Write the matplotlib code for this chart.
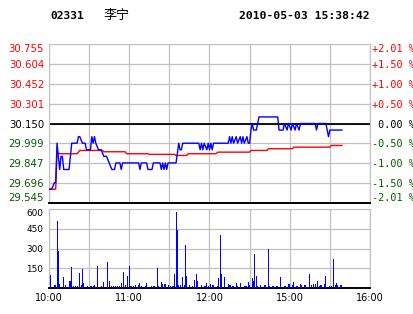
import matplotlib
matplotlib.use('Agg')
import matplotlib.pyplot as plt

# header texts
code = '02331'
name = '李宁'
stamp = '2010-05-03 15:38:42'

# price axis (left) and change axis (right)
price_ticks = [30.755, 30.604, 30.452, 30.301, 30.150, 29.999, 29.847, 29.696, 29.545]
pct_labels = ['+2.01 %', '+1.50 %', '+1.00 %', '+0.50 %', ' 0.00 %',
              '-0.50 %', '-1.00 %', '-1.50 %', '-2.01 %']
prev_close = 30.150

# time axis: minutes of the trading day (10:00-12:30, 14:30-16:00)
time_ticks = [0, 30, 60, 90, 120, 150, 180, 210, 240]
time_labels = ['10:00', '', '11:00', '', '12:00', '', '15:00', '', '16:00']

# last price, breakpoints (minute, price)
price_min = [0, 2, 4, 5, 6, 8, 9, 10, 11, 15, 17, 21, 22, 23, 25, 27, 28, 31, 32, 33,
             34, 35, 37, 39, 41, 43, 45, 47, 49, 50, 53, 54, 55, 67, 68, 69, 73, 74, 77, 78,
             83, 84, 85, 86, 87, 88, 89, 95, 97, 98, 99, 100, 112, 113, 114, 115, 116, 118, 119, 120,
             121, 122, 123, 134, 135, 136, 137, 138, 140, 141, 143, 144, 145, 146, 148, 149, 150, 151, 152, 153,
             155, 156, 157, 171, 172, 175, 176, 178, 179, 181, 182, 184, 185, 187, 188, 199, 200, 201, 207, 209,
             210, 219]
price_val = [29.65, 29.65, 29.70, 29.70, 30.00, 29.80, 29.90, 29.90, 29.80, 29.80, 30.00, 30.00, 30.05, 30.05, 30.00, 30.00, 29.95, 29.95, 30.05, 30.00,
             30.05, 30.00, 29.95, 29.95, 29.90, 29.90, 29.85, 29.80, 29.80, 29.85, 29.85, 29.80, 29.85, 29.85, 29.80, 29.85, 29.85, 29.80, 29.80, 29.85,
             29.85, 29.80, 29.85, 29.80, 29.85, 29.80, 29.85, 29.85, 30.00, 29.95, 29.95, 30.00, 30.00, 29.95, 30.00, 29.95, 30.00, 29.95, 30.00, 29.95,
             30.00, 29.95, 30.00, 30.00, 30.05, 30.00, 30.05, 30.00, 30.05, 30.00, 30.05, 30.00, 30.05, 30.00, 30.05, 30.00, 30.00, 30.10, 30.15, 30.10,
             30.10, 30.15, 30.20, 30.20, 30.10, 30.10, 30.15, 30.10, 30.15, 30.10, 30.15, 30.10, 30.15, 30.10, 30.15, 30.15, 30.10, 30.15, 30.15, 30.05,
             30.10, 30.10]

# average price, breakpoints
avg_min = [0, 5, 6, 8, 21, 23, 40, 41, 57, 58, 74, 75, 94, 95, 103, 104, 125, 126,
           150, 151, 163, 164, 182, 183, 210, 211, 219]
avg_val = [29.65, 29.65, 29.93, 29.92, 29.92, 29.945, 29.945, 29.935, 29.935, 29.92, 29.92, 29.915, 29.915, 29.907, 29.907, 29.92, 29.92, 29.932,
           29.932, 29.945, 29.945, 29.958, 29.958, 29.97, 29.97, 29.983, 29.983]

# volume per minute
vol_min = [1, 4, 5, 6, 7, 8, 11, 12, 15, 16, 17, 18, 20, 21, 23, 24, 25, 26, 29, 31,
           32, 33, 34, 35, 36, 39, 41, 44, 45, 47, 48, 50, 51, 53, 54, 56, 57, 58, 59, 60,
           61, 62, 63, 65, 66, 67, 68, 69, 72, 73, 74, 77, 78, 79, 81, 82, 84, 85, 86, 87,
           89, 91, 92, 93, 94, 95, 96, 97, 98, 100, 101, 102, 103, 105, 107, 109, 110, 111, 114, 116,
           117, 118, 119, 121, 122, 123, 126, 127, 128, 129, 131, 134, 135, 136, 137, 138, 140, 141, 143, 146,
           147, 148, 149, 150, 152, 153, 154, 155, 156, 158, 161, 162, 164, 165, 167, 168, 170, 171, 173, 176,
           177, 179, 180, 182, 183, 185, 186, 188, 189, 191, 192, 195, 196, 198, 199, 201, 202, 203, 204, 206,
           207, 210, 211, 213, 214, 215, 216, 218, 219]
vol_val = [100, 23, 23, 508, 278, 28, 87, 23, 54, 54, 163, 18, 18, 18, 115, 23, 145, 36, 15, 18,
           18, 18, 23, 10, 168, 18, 43, 199, 54, 15, 15, 15, 15, 18, 38, 122, 23, 8, 94, 168,
           15, 15, 15, 23, 10, 20, 38, 12, 18, 38, 10, 18, 18, 15, 153, 18, 43, 33, 33, 33,
           23, 15, 15, 15, 105, 579, 444, 23, 23, 84, 23, 329, 94, 23, 15, 59, 107, 54, 23, 15,
           15, 36, 18, 28, 20, 20, 15, 77, 406, 107, 87, 28, 20, 20, 18, 18, 36, 15, 36, 15,
           15, 15, 43, 23, 77, 54, 260, 92, 15, 23, 20, 20, 299, 18, 18, 18, 15, 15, 84, 15,
           15, 28, 28, 23, 43, 15, 15, 28, 23, 23, 23, 107, 23, 28, 31, 54, 15, 23, 23, 31,
           92, 15, 15, 222, 23, 38, 23, 23, 23]
vol_ticks = [150, 300, 450, 600]

red = '#ff0000'
green = '#005a00'
grid_c = '#c0c0c0'

fig = plt.figure(figsize=(4.14, 3.14), dpi=100, facecolor='white')

# ---- price panel ----
ax = fig.add_axes([49/414, 1-203/314, 321/414, 159/314])
ax.plot(price_min, price_val, color='#0000ff', lw=1.0, zorder=4)
ax.plot(avg_min, avg_val, color=red, lw=1.0, zorder=3)
ax.axhline(prev_close, color='black', lw=1.3, zorder=2)
ax.set_xlim(0, 240)
ax.set_ylim(price_ticks[-1], price_ticks[0])
ax.set_xticks(time_ticks)
ax.set_xticklabels([])
ax.set_yticks(price_ticks)
ax.set_yticklabels(['%.3f' % p for p in price_ticks], fontsize=7.3, family='DejaVu Sans')
ax.tick_params(length=0, pad=3.6)
ax.grid(True, color=grid_c, lw=0.9)
for lab, p in zip(ax.get_yticklabels(), price_ticks):
    lab.set_color(red if p > prev_close else ('black' if p == prev_close else green))
# first and last labels sit inside the panel
ax.get_yticklabels()[0].set_va('top')
ax.get_yticklabels()[-1].set_va('bottom')
for s in ['left', 'right', 'top']:
    ax.spines[s].set_color(grid_c)
ax.spines['bottom'].set_color('black')
ax.spines['bottom'].set_linewidth(1.4)

ax2 = ax.twinx()
ax2.set_ylim(ax.get_ylim())
ax2.set_yticks(price_ticks)
ax2.set_yticklabels(pct_labels, fontsize=7.3, family='DejaVu Sans Mono')
ax2.tick_params(length=0, pad=1.2)
for lab, p in zip(ax2.get_yticklabels(), price_ticks):
    lab.set_color(red if p > prev_close else ('black' if p == prev_close else green))
ax2.get_yticklabels()[0].set_va('top')
ax2.get_yticklabels()[-1].set_va('bottom')
for s in ax2.spines.values():
    s.set_visible(False)

# ---- volume panel ----
axv = fig.add_axes([49/414, 1-288/314, 321/414, 79/314])
axv.bar(vol_min, vol_val, width=0.75, color='#0000ff', linewidth=0, antialiased=False, zorder=3)
axv.set_xlim(0, 240)
axv.set_ylim(0, 600)
axv.set_xticks(time_ticks)
axv.set_xticklabels(time_labels, fontsize=7, family='DejaVu Sans')
axv.set_yticks(vol_ticks)
axv.set_yticklabels([str(v) for v in vol_ticks], fontsize=6.4, family='DejaVu Sans')
axv.get_yticklabels()[-1].set_va('top')
axv.tick_params(length=0)
axv.tick_params(axis='y', pad=4.3)
axv.tick_params(axis='x', pad=3.6)
axv.grid(True, color=grid_c, lw=0.9)
for s in ['left', 'right', 'top']:
    axv.spines[s].set_color(grid_c)
axv.spines['bottom'].set_color('black')
axv.spines['bottom'].set_linewidth(1.4)

# ---- header ----
fig.text(50/414, 1-16/314, code, fontsize=8.1, family='DejaVu Sans Mono', weight='bold', va='center')
fig.text(104/414, 1-16/314, name, fontsize=9.4, family=['Noto Sans CJK SC', 'DejaVu Sans'], va='center')
fig.text(370/414, 1-16/314, stamp, fontsize=8.2, family='DejaVu Sans Mono', weight='bold', va='center', ha='right')

fig.savefig('out.png', dpi=100, facecolor='white')
